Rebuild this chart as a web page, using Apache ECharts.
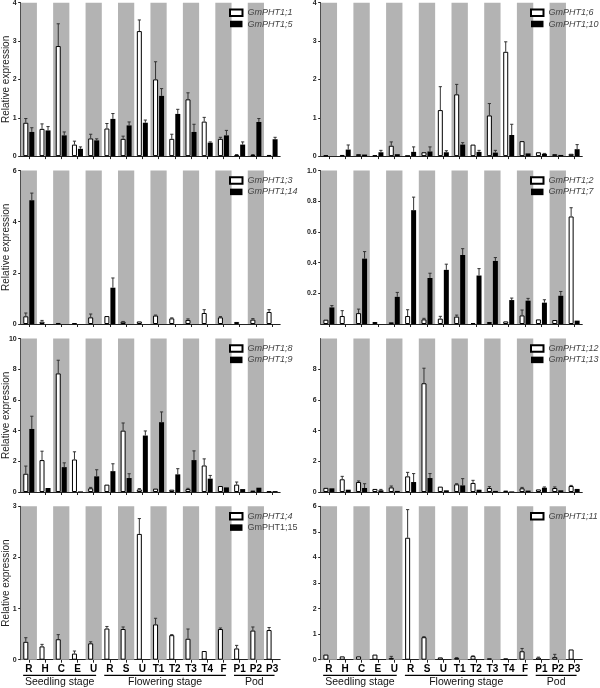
<!DOCTYPE html>
<html><head><meta charset="utf-8">
<script src="https://cdn.jsdelivr.net/npm/echarts@6/dist/echarts.min.js"></script>
<style>html,body{margin:0;padding:0;background:#fff}#c{width:600px;height:688px}</style>
</head><body><div id="c"></div>
<script>
// ---- categories / tick labels ----
const categories = ['R','H','C','E','U','R','S','U','T1','T2','T3','T4','F','P1','P2','P3'];
const catIds = categories.map((c,i)=>c+'_'+i);
const groupLabels = ['Seedling stage','Flowering stage','Pod'];
const groupFirst = [0,5,13];
const groupLast = [4,12,15];
const uprightNames = ['GmPHT1;15'];

// ---- series values (mean) and error (SD) ----
const pht1_1     = [0.87,0.71,2.87,0.30,0.46,0.72,0.45,3.26,2.00,0.45,1.48,0.90,0.45,0.03,0.03,0.03];
const pht1_1_err = [0.11,0.13,0.58,0.09,0.11,0.13,0.07,0.29,0.46,0.12,0.17,0.11,0.04,0.01,0.01,0];
const pht1_5     = [0.63,0.67,0.54,0.19,0.41,0.97,0.80,0.87,1.57,1.10,0.63,0.35,0.54,0.30,0.89,0.44];
const pht1_5_err = [0.11,0.10,0.09,0.05,0.04,0.14,0.09,0.07,0.19,0.12,0.20,0.02,0.13,0.07,0.09,0.05];

const pht1_6      = [0.02,0.03,0.05,0.02,0.27,0.01,0.10,1.20,1.61,0.30,1.06,2.72,0.39,0.10,0.05,0.06];
const pht1_6_err  = [0,0,0,0,0.10,0,0,0.61,0.26,0,0.31,0.26,0,0,0,0];
const pht1_10     = [0,0.17,0.04,0.10,0.05,0.11,0.12,0.10,0.30,0.11,0.09,0.55,0.07,0.06,0.03,0.18];
const pht1_10_err = [0,0.12,0,0.05,0,0.13,0.12,0.04,0.05,0.04,0.06,0.28,0,0.01,0,0.12];

const pht1_3      = [0.30,0.09,0.04,0.03,0.26,0.31,0.09,0.10,0.33,0.22,0.16,0.43,0.26,0.08,0.17,0.47];
const pht1_3_err  = [0.13,0.05,0,0,0.13,0,0.01,0,0.02,0.02,0.04,0.13,0.03,0,0.04,0.09];
const pht1_14     = [4.84,0,0,0,0,1.42,0,0,0,0,0,0,0,0,0,0];
const pht1_14_err = [0.28,0,0,0,0,0.38,0,0,0,0,0,0,0,0,0,0];

const pht1_2      = [0.028,0.052,0.071,0.013,0.011,0.052,0.030,0.035,0.048,0.006,0.013,0.017,0.056,0.030,0.026,0.701];
const pht1_2_err  = [0,0.035,0.026,0,0,0.041,0.007,0.015,0.010,0,0,0,0.035,0,0,0.057];
const pht1_7      = [0.108,0,0.426,0,0.177,0.742,0.300,0.353,0.450,0.316,0.411,0.156,0.152,0.139,0.184,0.022];
const pht1_7_err  = [0.012,0,0.046,0,0.029,0.085,0.031,0.037,0.041,0.045,0.022,0.013,0.015,0.019,0.028,0];

const pht1_8      = [1.19,2.08,7.73,2.12,0.24,0.48,4.00,0.17,0.22,0.15,0.19,1.73,0.39,0.48,0.09,0.04];
const pht1_8_err  = [0.50,0.58,0.86,0.50,0.06,0,0.50,0.05,0,0,0.05,0.43,0,0.17,0,0];
const pht1_9      = [4.11,0.26,1.62,0.04,1.02,1.36,0.91,3.68,4.55,1.15,2.08,0.87,0.30,0.19,0.28,0.06];
const pht1_9_err  = [0.83,0,0.28,0,0.43,0.48,0.28,0.30,0.67,0.37,0.60,0.21,0,0,0,0];

const pht1_12     = [0.27,0.83,0.65,0.20,0.30,1.02,7.09,0.35,0.50,0.59,0.26,0.09,0.24,0.17,0.26,0.39];
const pht1_12_err = [0,0.19,0.07,0,0.09,0.26,0.98,0,0.04,0.17,0.09,0,0.06,0,0.07,0.04];
const pht1_13     = [0.24,0.15,0.26,0.11,0.07,0.65,0.91,0.11,0.43,0.15,0.07,0.04,0.09,0.28,0.11,0.20];
const pht1_13_err = [0,0,0.28,0.06,0,0.55,0.29,0,0.44,0,0,0,0,0.05,0,0];

const pht1_4      = [0.35,0.26,0.40,0.12,0.32,0.61,0.60,2.46,0.69,0.48,0.41,0.17,0.60,0.22,0.57,0.58];
const pht1_4_err  = [0.08,0.04,0.09,0.05,0.03,0.04,0.04,0.30,0.12,0.01,0.19,0,0.02,0.06,0.07,0.05];
const pht1_15     = [0,0,0,0,0,0,0,0,0,0,0,0,0,0,0,0];
const pht1_15_err = [0,0,0,0,0,0,0,0,0,0,0,0,0,0,0,0];

const pht1_11     = [0.20,0.13,0.13,0.20,0.07,4.77,0.88,0.09,0.07,0.14,0.05,0.05,0.33,0.08,0.10,0.40];
const pht1_11_err = [0,0,0,0,0.06,1.10,0.02,0,0.01,0.01,0,0,0.11,0.02,0.11,0];

// ---- y axis ranges ----
const yMax      = [4, 4, 6, 1.0, 10, 10, 3, 6];
const yInterval = [1, 1, 2, 0.2, 2, 2, 1, 1];

const panels = [
  {w:'GmPHT1;1', wv:pht1_1, we:pht1_1_err, b:'GmPHT1;5', bv:pht1_5, be:pht1_5_err},
  {w:'GmPHT1;6', wv:pht1_6, we:pht1_6_err, b:'GmPHT1;10', bv:pht1_10, be:pht1_10_err},
  {w:'GmPHT1;3', wv:pht1_3, we:pht1_3_err, b:'GmPHT1;14', bv:pht1_14, be:pht1_14_err},
  {w:'GmPHT1;2', wv:pht1_2, we:pht1_2_err, b:'GmPHT1;7', bv:pht1_7, be:pht1_7_err, fmt:v=>v.toFixed(1), hideMin:true},
  {w:'GmPHT1;8', wv:pht1_8, we:pht1_8_err, b:'GmPHT1;9', bv:pht1_9, be:pht1_9_err},
  {w:'GmPHT1;12', wv:pht1_12, we:pht1_12_err, b:'GmPHT1;13', bv:pht1_13, be:pht1_13_err, hideMax:true},
  {w:'GmPHT1;4', wv:pht1_4, we:pht1_4_err, b:'GmPHT1;15', bv:pht1_15, be:pht1_15_err},
  {w:'GmPHT1;11', wv:pht1_11, we:pht1_11_err, b:null, bv:[], be:[]}
];

const FONT = 'Liberation Sans, Arial, sans-serif';
const colLeft = [20.7, 320.7], colWidth = [259.5, 261.6];
const rowTop = [2.7, 170.6, 338.6, 506.3], rowH = 153.4;
const legendLeft = [229, 530];
const BAR_W = 5, BAR_GAP = 1;

const chart = echarts.init(document.getElementById('c'));
const grids=[], xAxes=[], yAxes=[], series=[], legends=[];

function errSeries(k, vals, errs, offset){
  return {
    type:'custom', xAxisIndex:2*k, yAxisIndex:k, z:4, silent:true,
    data: vals.map((v,i)=>[i, v, errs[i]||0]),
    renderItem:(params, api)=>{
      const e = api.value(2);
      if(!e) return null;
      const i = api.value(0), v = api.value(1);
      const p0 = api.coord([i, v]);
      const p1 = api.coord([i, v + e]);
      const x = p0[0] + offset;
      const st = {stroke:'#333', lineWidth:1};
      return {type:'group', children:[
        {type:'line', shape:{x1:x, y1:p0[1], x2:x, y2:p1[1]}, style:st},
        {type:'line', shape:{x1:x-1.6, y1:p1[1], x2:x+1.6, y2:p1[1]}, style:st}
      ]};
    }
  };
}

panels.forEach((p,k)=>{
  const col = k%2, row = Math.floor(k/2);
  const isBottom = row===3;
  grids.push({left:colLeft[col], top:rowTop[row], width:colWidth[col], height:rowH, containLabel:false, outerBoundsMode:'none'});
  xAxes.push({
    type:'category', gridIndex:k, data:catIds, boundaryGap:true,
    axisLine:{show:true, lineStyle:{color:'#222', width:1}},
    axisTick:{show:true, alignWithLabel:true, interval:0, length:3, lineStyle:{color:'#222', width:1}},
    axisLabel:{show:isBottom, interval:0, margin:5, fontSize:10, fontWeight:'bold', color:'#000', fontFamily:FONT,
      formatter:(v,i)=>categories[i]},
    splitLine:{show:false}
  });
  xAxes.push({type:'category', gridIndex:k, data:catIds, boundaryGap:true, show:false});
  const ya = {
    type:'value', gridIndex:k, min:0, max:yMax[k], interval:yInterval[k],
    axisLine:{show:true, lineStyle:{color:'#222', width:1}},
    axisTick:{show:true, length:2.5, lineStyle:{color:'#222', width:1}},
    axisLabel:{fontSize:7, fontWeight:'bold', color:'#222', margin:4, fontFamily:FONT,
      showMinLabel:!p.hideMin, showMaxLabel:!p.hideMax},
    splitLine:{show:false}
  };
  if(p.fmt) ya.axisLabel.formatter = p.fmt;
  if(col===0){
    ya.name = 'Relative expression';
    ya.nameLocation = 'middle';
    ya.nameGap = 9;
    ya.nameMoveOverlap = false;
    ya.nameTextStyle = {fontSize:10, color:'#222', fontFamily:FONT};
  }
  yAxes.push(ya);

  series.push({type:'bar', xAxisIndex:2*k+1, yAxisIndex:k, silent:true, z:1,
    barWidth:'100%', itemStyle:{color:'#b3b3b3'},
    data: catIds.map((c,i)=> i%2===0 ? yMax[k] : null)});
  series.push({type:'bar', name:p.w, xAxisIndex:2*k, yAxisIndex:k, z:2,
    barWidth:BAR_W, barGap:(BAR_GAP/BAR_W*100)+'%',
    itemStyle:{color:'#fff', borderColor:'#000', borderWidth:1}, data:p.wv});
  const blk = {type:'bar', xAxisIndex:2*k, yAxisIndex:k, z:2,
    barWidth:BAR_W, barGap:(BAR_GAP/BAR_W*100)+'%',
    itemStyle:{color:'#000'}, data:p.bv};
  if(p.b) blk.name = p.b;
  series.push(blk);
  const off = (BAR_W + BAR_GAP)/2;
  series.push(errSeries(k, p.wv, p.we, -off));
  if(p.b) series.push(errSeries(k, p.bv, p.be, off));

  legends.push({
    data:[p.w, p.b].filter(Boolean), left:legendLeft[col], top:rowTop[row]+5.5,
    orient:'vertical', itemWidth:12.5, itemHeight:6.5, itemGap:2.3, icon:'rect',
    selectedMode:false, padding:0,
    textStyle:{fontSize:9, fontStyle:'italic', color:'#444', fontFamily:FONT,
      rich:{n:{fontStyle:'normal', fontSize:9, color:'#444', fontFamily:FONT}}},
    formatter:name=> uprightNames.includes(name) ? '{n|'+name+'}' : name
  });
});

chart.setOption({
  animation:false, backgroundColor:'#fff',
  grid:grids, xAxis:xAxes, yAxis:yAxes, series:series, legend:legends
});

// stage group labels under bottom row
const gfx = [];
[6,7].forEach(k=>{
  const xi = 2*k;
  const px = i=>chart.convertToPixel({xAxisIndex:xi}, i);
  const band = px(1)-px(0);
  const y0 = chart.convertToPixel({yAxisIndex:k}, 0);
  groupLabels.forEach((name,g)=>{
    const x1 = px(groupFirst[g]) - 0.35*band;
    const x2 = px(groupLast[g]) + 0.15*band;
    gfx.push({type:'line', shape:{x1:x1, y1:y0+15.7, x2:x2, y2:y0+15.7}, style:{stroke:'#000', lineWidth:1.3}, silent:true});
    gfx.push({type:'text', x:(x1+x2)/2, y:y0+22.3, style:{text:name, fill:'#111', font:'10.5px '+FONT, textAlign:'center', textVerticalAlign:'middle'}, silent:true});
  });
});
chart.setOption({graphic:gfx});
</script>
</body></html>
